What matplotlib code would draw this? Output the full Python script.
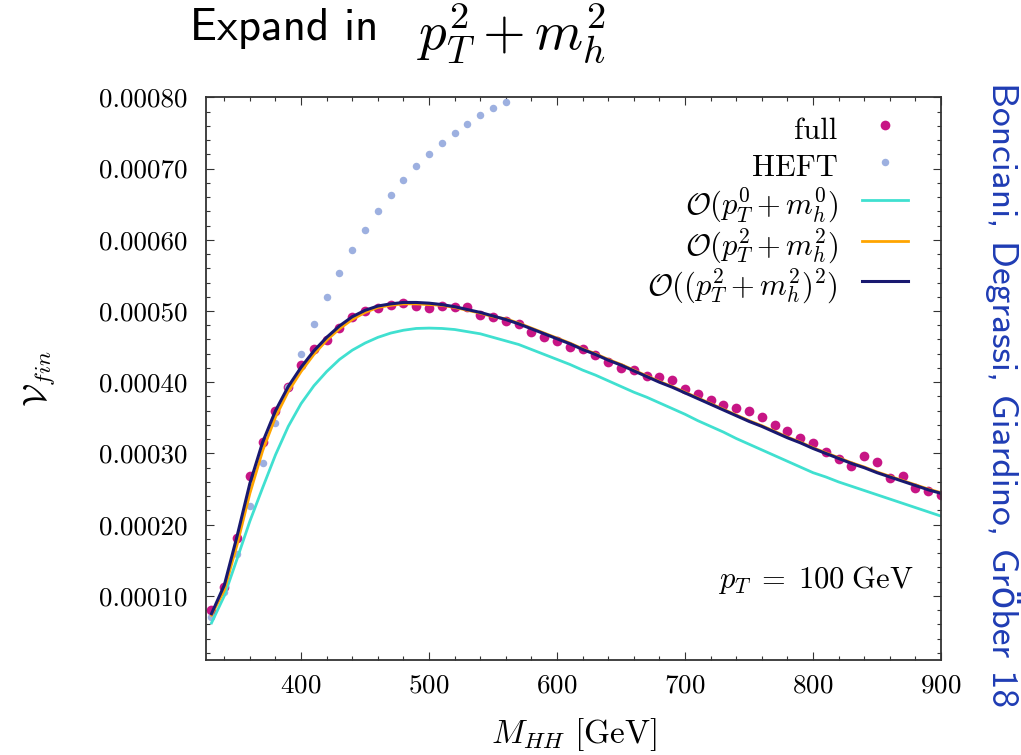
import numpy as np
import matplotlib
matplotlib.use("Agg")
import matplotlib.pyplot as plt
from matplotlib.ticker import MultipleLocator, FormatStrFormatter

plt.rcParams['mathtext.fontset'] = 'cm'
plt.rcParams['font.family'] = ['cmr10', 'DejaVu Serif']
plt.rcParams['axes.formatter.use_mathtext'] = True

# M_HH grid (GeV), values in units of 1e-4
mhh = np.arange(330, 901, 10)

full = [0.80, 1.13, 1.81, 2.68, 3.16, 3.59, 3.94, 4.24, 4.47, 4.59,
        4.76, 4.91, 5.00, 5.04, 5.09, 5.11, 5.07, 5.04, 5.07, 5.05,
        5.05, 4.95, 4.91, 4.86, 4.82, 4.70, 4.64, 4.58, 4.50, 4.46,
        4.38, 4.28, 4.20, 4.17, 4.09, 4.08, 4.03, 3.90, 3.84, 3.75,
        3.68, 3.64, 3.60, 3.51, 3.40, 3.31, 3.22, 3.15, 3.02, 2.92,
        2.83, 2.97, 2.88, 2.65, 2.68, 2.52, 2.47, 2.41]

mhh_heft = np.arange(330, 561, 10)
heft = [0.70, 1.05, 1.59, 2.26, 2.87, 3.43, 3.94, 4.40, 4.82, 5.20,
        5.54, 5.86, 6.14, 6.40, 6.63, 6.84, 7.03, 7.21, 7.36, 7.50,
        7.63, 7.75, 7.85, 7.94]

order0 = [0.62, 1.00, 1.52, 2.05, 2.52, 2.98, 3.38, 3.70, 3.95, 4.15,
          4.32, 4.45, 4.55, 4.63, 4.69, 4.73, 4.755, 4.76, 4.755, 4.74,
          4.71, 4.68, 4.63, 4.58, 4.53, 4.46, 4.39, 4.32, 4.25, 4.17,
          4.10, 4.02, 3.94, 3.86, 3.79, 3.71, 3.63, 3.55, 3.46, 3.38,
          3.30, 3.21, 3.13, 3.05, 2.97, 2.89, 2.81, 2.73, 2.67, 2.60,
          2.54, 2.48, 2.42, 2.36, 2.30, 2.24, 2.18, 2.12]

order1 = [0.73, 1.08, 1.72, 2.44, 3.04, 3.51, 3.87, 4.15, 4.39, 4.59,
          4.75, 4.88, 4.98, 5.05, 5.08, 5.10, 5.10, 5.09, 5.08, 5.05,
          5.01, 4.97, 4.92, 4.89, 4.83, 4.76, 4.69, 4.62, 4.55, 4.47,
          4.40, 4.32, 4.25, 4.17, 4.09, 4.01, 3.94, 3.86, 3.78, 3.70,
          3.62, 3.54, 3.46, 3.39, 3.31, 3.23, 3.16, 3.08, 3.01, 2.94,
          2.87, 2.81, 2.74, 2.68, 2.62, 2.56, 2.50, 2.45]

order2 = [0.75, 1.15, 1.84, 2.58, 3.16, 3.60, 3.94, 4.21, 4.44, 4.63,
          4.79, 4.92, 5.01, 5.07, 5.10, 5.12, 5.12, 5.11, 5.09, 5.06,
          5.02, 4.98, 4.93, 4.88, 4.82, 4.75, 4.68, 4.61, 4.54, 4.46,
          4.39, 4.31, 4.24, 4.16, 4.08, 4.00, 3.93, 3.85, 3.77, 3.69,
          3.61, 3.53, 3.45, 3.38, 3.30, 3.22, 3.15, 3.07, 3.00, 2.93,
          2.86, 2.80, 2.73, 2.67, 2.61, 2.55, 2.49, 2.44]

scale = 1e-4

fig = plt.figure(figsize=(10.21, 7.55), dpi=100)
ax = fig.add_axes([0.2015, 0.1258, 0.7202, 0.7453])

ax.plot(mhh, np.array(full) * scale, 'o', color='#c71585', ms=7, mec='none',
        label='full')
ax.plot(mhh_heft, np.array(heft) * scale, 'o', color='#9db0e0', ms=5.4, mec='none',
        label='HEFT')
ax.plot(mhh, np.array(order0) * scale, color='#40e0d0', lw=2.0,
        label=r'$\mathcal{O}(p_T^0+m_h^0)$')
ax.plot(mhh, np.array(order1) * scale, color='#ffa500', lw=2.0,
        label=r'$\mathcal{O}(p_T^2+m_h^2)$')
ax.plot(mhh, np.array(order2) * scale, color='#191970', lw=2.2,
        label=r'$\mathcal{O}((p_T^2+m_h^2)^2)$')

ax.set_xlim(325.5, 900)
ax.set_ylim(0.00001, 0.0008)
ax.xaxis.set_major_locator(MultipleLocator(100))
ax.xaxis.set_minor_locator(MultipleLocator(20))
ax.yaxis.set_major_locator(MultipleLocator(0.0001))
ax.yaxis.set_minor_locator(MultipleLocator(0.00002))
ax.yaxis.set_major_formatter(FormatStrFormatter('%.5f'))
ax.set_yticks(np.arange(1, 9) * 1e-4)

ax.tick_params(which='both', direction='in', top=True, right=True,
               labelsize=19.5, color='#333333')
ax.tick_params(which='major', length=6, width=0.8)
ax.tick_params(which='minor', length=3, width=0.8)
ax.tick_params(axis='y', pad=13)
ax.tick_params(axis='x', pad=10)
for s in ax.spines.values():
    s.set_linewidth(1.3)
    s.set_color('#333333')

ax.set_xlabel(r'$M_{HH}\ [\mathrm{GeV}]$', fontsize=24, labelpad=13)
ax.set_ylabel(r'$\mathcal{V}_{fin}$', fontsize=24, labelpad=30)

ax.text(0.962, 0.142, r'$p_T \;=\; 100\;\mathrm{GeV}$', transform=ax.transAxes,
        ha='right', va='center', fontsize=22)

leg = ax.legend(loc='upper right', bbox_to_anchor=(0.955, 0.975),
                frameon=False, markerfirst=False, alignment='right',
                fontsize=22, handlelength=1.5, handletextpad=0.8,
                handleheight=1.4, labelspacing=0.05,
                borderaxespad=0, borderpad=0)

fig.text(0.186, 0.962, 'Expand in', family=['cmss10', 'DejaVu Sans'],
         fontsize=32.5, va='center', ha='left')
fig.text(0.408, 0.955, r'$p_T^2+m_h^2$', fontsize=39.5, va='center', ha='left')
fig.text(0.982, 0.478, 'Bonciani, Degrassi, Giardino, Gröber 18',
         family=['cmss10', 'DejaVu Sans'], color='#1f3cb4', fontsize=27,
         rotation=-90, ha='center', va='center')

fig.savefig('out.png', dpi=100)
